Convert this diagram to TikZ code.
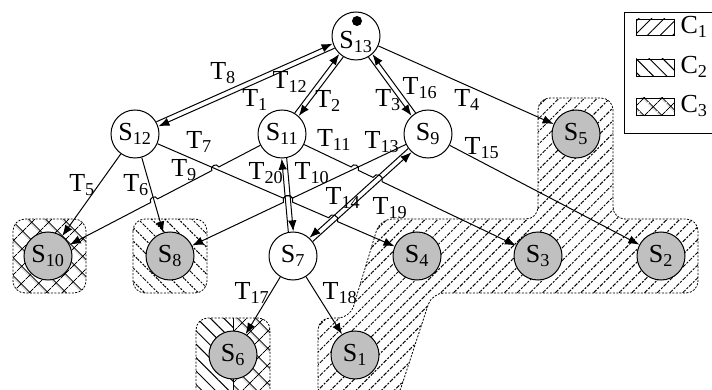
\documentclass[tikz,border=0pt]{standalone}
\usepackage{fontspec}
\setmainfont{Liberation Serif}
\usetikzlibrary{arrows.meta,calc,patterns.meta}
\definecolor{stgray}{RGB}{192,192,192}
% two opposite transitions side by side
\newcommand{\twoway}[3]{%
  \draw[tr] ($(#1)!24.5pt!(#2)!#3!90:(#2)$) -- ($(#2)!24.5pt!(#1)!#3!-90:(#1)$);
  \draw[tr] ($(#2)!24.5pt!(#1)!#3!90:(#1)$) -- ($(#1)!24.5pt!(#2)!#3!-90:(#2)$);}

\begin{document}
\begin{tikzpicture}[x=1pt,y=-1pt,font=\fontsize{26}{30}\selectfont,
  state/.style={draw,circle,line width=1pt,fill=white,minimum size=48pt,inner sep=0pt},
  final/.style={state,fill=stgray},
  tr/.style={-{Latex[length=11pt,width=8.5pt]},line width=1pt},
  hopl/.style={bend left=90,looseness=1.6},
  hopr/.style={bend right=90,looseness=1.6},
  zone/.style={dash pattern=on 2pt off 1.5pt,line width=0.8pt,rounded corners=12pt},
  cone/.style={pattern={Lines[angle=45,distance=9pt,line width=1pt]}},
  ctwo/.style={pattern={Lines[angle=-45,distance=9.5pt,line width=1pt]}},
  cthree/.style={pattern={Hatch[angle=45,distance=13pt,line width=1pt]}}]
  \clip (0,0) rectangle (712,390);
  % Regions
  \draw[zone,cone] (318,400) -- (318,318) -- (350,318) -- (380,219) -- (538,219) -- (538,98)
    -- (613,98) -- (613,219) -- (698,219) -- (698,293) -- (432,293) -- (397,400) -- cycle;
  \draw[zone,ctwo] (133,219) rectangle (207,293);
  \draw[zone,cthree] (13,219) rectangle (86,293);
  \begin{scope}
    \clip[rounded corners=12pt] (196,318) rectangle (270,410);
    \path[ctwo] (196,318) rectangle (233,410);
    \path[cthree] (233,318) rectangle (270,410);
  \end{scope}
  \draw[line width=0.5pt] (233,318) -- (233,400);
  \draw[zone] (196,318) rectangle (270,410);
  % States
  \node[state] (s13) at (356,36) {};
  \node (s13l) at (356,42) {S\textsubscript{13}};
  \node[state] (s12) at (135,134) {S\textsubscript{12}};
  \node[state] (s11) at (282,134) {S\textsubscript{11}};
  \node[state] (s9) at (428,134) {S\textsubscript{9}};
  \node[final] (s5) at (576,134) {S\textsubscript{5}};
  \node[final] (s10) at (48,256) {S\textsubscript{10}};
  \node[final] (s8) at (170,256) {S\textsubscript{8}};
  \node[state] (s7) at (293,256) {S\textsubscript{7}};
  \node[final] (s4) at (417,256) {S\textsubscript{4}};
  \node[final] (s3) at (538,256) {S\textsubscript{3}};
  \node[final] (s2) at (661,256) {S\textsubscript{2}};
  \node[final] (s6) at (233,355) {S\textsubscript{6}};
  \node[final] (s1) at (355,355) {S\textsubscript{1}};
  \node[circle,fill,minimum size=10pt,inner sep=0pt] (tok) at (357,21) {};
  % Crossing points
  \coordinate (h1) at (intersection of s11--s10 and s12--s4);
  \coordinate (h2) at (intersection of s11--s10 and s12--s8);
  \coordinate (h3) at (intersection of s12--s4 and s11--s7);
  \coordinate (h4) at (intersection of s12--s4 and s7--s9);
  \coordinate (h5) at (intersection of s11--s3 and s9--s8);
  \coordinate (h6) at (intersection of s9--s8 and s11--s7);
  \coordinate (h7) at (intersection of s11--s3 and s7--s9);
  % Transitions
  \twoway{s12}{s13}{2.5pt}
  \twoway{s11}{s13}{2.5pt}
  \twoway{s9}{s13}{-2.5pt}
  \twoway{s7}{s11}{2.5pt}
  \twoway{s7}{s9}{-2.5pt}
  \draw[tr] (s13) -- (s5);
  \draw[tr] (s12) -- (s10);
  \draw[tr] (s12) -- (s8);
  \draw[tr] (s9) -- (s2);
  \draw[tr] (s7) -- (s6);
  \draw[tr] (s7) -- (s1);
  \draw[tr] (s11) -- ($(h1)!4pt!(s11)$) to[hopr] ($(h1)!4pt!(s10)$)
    -- ($(h2)!4pt!(s11)$) to[hopr] ($(h2)!4pt!(s10)$) -- (s10);
  \draw[tr] (s12) -- ($(h3)!5pt!(s12)$) to[hopl] ($(h3)!5pt!(s4)$)
    -- ($(h4)!5pt!(s12)$) to[hopl] ($(h4)!5pt!(s4)$) -- (s4);
  \draw[tr] (s9) -- ($(h6)!5pt!(s9)$) to[hopr] ($(h6)!5pt!(s8)$) -- (s8);
  \draw[tr] (s11) -- ($(h5)!4pt!(s11)$) to[hopl] ($(h5)!4pt!(s3)$)
    -- ($(h7)!5pt!(s11)$) to[hopl] ($(h7)!5pt!(s3)$) -- (s3);
  % Labels
  \node (t8) at (223,73) {T\textsubscript{8}};
  \node (t1) at (255,100) {T\textsubscript{1}};
  \node (t12) at (290,82) {T\textsubscript{12}};
  \node (t2) at (328,101) {T\textsubscript{2}};
  \node (t3) at (388,100) {T\textsubscript{3}};
  \node (t16) at (420,88) {T\textsubscript{16}};
  \node (t4) at (467,100) {T\textsubscript{4}};
  \node (t7) at (199,142) {T\textsubscript{7}};
  \node (t5) at (82,185) {T\textsubscript{5}};
  \node (t6) at (136,185) {T\textsubscript{6}};
  \node (t9) at (184,170) {T\textsubscript{9}};
  \node (t11) at (334,140) {T\textsubscript{11}};
  \node (t13) at (382,142) {T\textsubscript{13}};
  \node (t20) at (266,173) {T\textsubscript{20}};
  \node (t10) at (312,173) {T\textsubscript{10}};
  \node (t14) at (343,198) {T\textsubscript{14}};
  \node (t19) at (390,208) {T\textsubscript{19}};
  \node (t15) at (482,148) {T\textsubscript{15}};
  \node (t17) at (252,293) {T\textsubscript{17}};
  \node (t18) at (340,293) {T\textsubscript{18}};
  % Legend
  \draw[line width=0.8pt] (624,12) rectangle (730,133);
  \draw[line width=0.8pt,cone] (636,19) rectangle (674,35);
  \draw[line width=0.8pt,ctwo] (636,59) rectangle (674,76);
  \draw[line width=0.8pt,cthree] (636,98) rectangle (674,115);
  \node[anchor=west] (c1) at (677,27) {C\textsubscript{1}};
  \node[anchor=west] (c2) at (677,67) {C\textsubscript{2}};
  \node[anchor=west] (c3) at (677,106) {C\textsubscript{3}};
\end{tikzpicture}
\end{document}
